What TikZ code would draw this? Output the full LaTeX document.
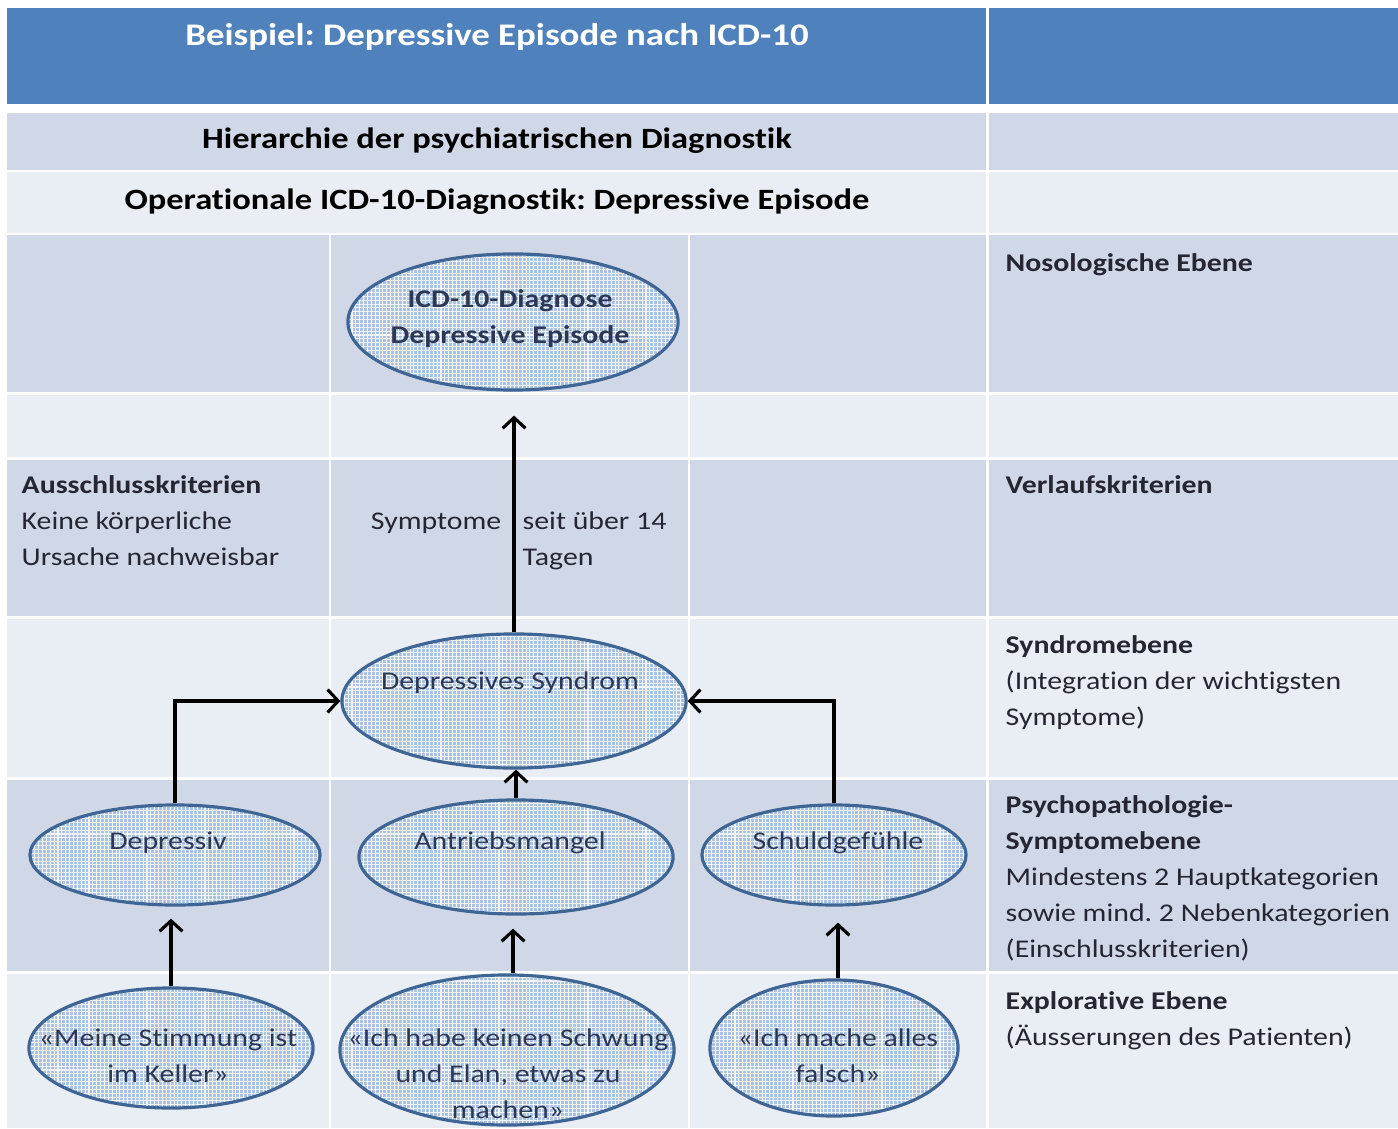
\documentclass[tikz,border=0pt]{standalone}
\usepackage{fontspec}
\setmainfont{Carlito}[FakeStretch=1.17,Ligatures=CommonOff]
\usetikzlibrary{arrows.meta,shapes.geometric,patterns.meta}
\definecolor{hdrblue}{HTML}{4F81BD}
\definecolor{rowdark}{HTML}{D0D8E8}
\definecolor{rowlight}{HTML}{E9EDF4}
\definecolor{ellfill}{HTML}{ABC3E2}
\definecolor{elldraw}{HTML}{3E6594}
\definecolor{txtc}{HTML}{262633}
\definecolor{elltxt}{HTML}{2B3754}
\newcommand\fbody{\fontsize{7.25pt}{10.24pt}\selectfont}
\newcommand\fhead{\fontsize{8.38pt}{10.24pt}\selectfont\bfseries}
\newcommand\ftitle{\fontsize{8.95pt}{10.24pt}\selectfont\bfseries}
\frenchspacing
\begin{document}
\begin{tikzpicture}[x=0.01cm,y=-0.01cm,
  darkcell/.style={fill=rowdark},
  lightcell/.style={fill=rowlight},
  sep/.style={draw=white,line width=0.71pt},
  ell/.style={ellipse,draw=elldraw,line width=0.9pt,inner sep=0pt,
    preaction={fill=ellfill},
    pattern={Hatch[distance=1.1pt,line width=0.3pt]},pattern color=white!85!ellfill},
  etext/.style={inner sep=0pt,font=\fbody,text=elltxt,align=center},
  ltext/.style={inner sep=0pt,font=\fbody,text=txtc,align=left,anchor=west},
  htext/.style={inner sep=0pt,font=\fhead,text=black},
  conn/.style={line width=0.9pt,-{Straight Barb[length=3pt,width=6.5pt]}}]
\useasboundingbox (0,0) rectangle (1398,1128);
% table
\fill[hdrblue] (7,8) rectangle (1398,104);
\fill[darkcell] (7,113) rectangle (1398,171);
\fill[lightcell] (7,171) rectangle (1398,234);
\fill[darkcell] (7,234) rectangle (1398,393.5);
\fill[lightcell] (7,393.5) rectangle (1398,458.5);
\fill[darkcell] (7,458.5) rectangle (1398,617.5);
\fill[lightcell] (7,617.5) rectangle (1398,778.5);
\fill[darkcell] (7,778.5) rectangle (1398,972.5);
\fill[lightcell] (7,972.5) rectangle (1398,1128);
\foreach \yy in {171,234,393.5,458.5,617.5,778.5,972.5}
  \draw[sep] (7,\yy) -- (1398,\yy);
\draw[sep] (987.5,8) -- (987.5,1128);
\draw[sep] (330,234) -- (330,1128);
\draw[sep] (689,234) -- (689,1128);
% ellipses
\node[ell,minimum width=3.30cm,minimum height=1.36cm] (icd) at (513,322) {};
\node[ell,minimum width=3.44cm,minimum height=1.34cm] (ds) at (514,701) {};
\node[ell,minimum width=2.90cm,minimum height=1.00cm] (dep) at (175,855) {};
\node[ell,minimum width=3.14cm,minimum height=1.14cm] (antr) at (516,857) {};
\node[ell,minimum width=2.64cm,minimum height=1.00cm] (schuld) at (834,855) {};
\node[ell,minimum width=2.84cm,minimum height=1.20cm] (meine) at (171,1048) {};
\node[ell,minimum width=3.34cm,minimum height=1.50cm] (ichhabe) at (507,1050) {};
\node[ell,minimum width=2.48cm,minimum height=1.36cm] (ichmache) at (834,1048) {};
% ellipse texts
\node[etext,font=\fbody\bfseries] (icdT) at (510,318) {\strut ICD-10-Diagnose\\\strut Depressive Episode};
\node[etext] (dsT) at (510,682) {\strut Depressives Syndrom};
\node[etext] (depT) at (168,842) {\strut Depressiv};
\node[etext] (antrT) at (510,842) {\strut Antriebsmangel};
\node[etext] (schuldT) at (838,842) {\strut Schuldgefühle};
\node[etext] (meineT) at (168,1057) {\strut «Meine Stimmung ist\\\strut im Keller»};
\node[etext] (ichhabeT) at (508,1075) {\strut «Ich habe keinen Schwung\\\strut und Elan, etwas zu\\\strut machen»};
\node[etext] (ichmacheT) at (838,1057) {\strut «Ich mache alles\\\strut falsch»};
% connectors
\draw[conn,shorten >=0.25cm] (ds.north) -- (ds.north |- icd.south);
\draw[conn] (dep.north) |- (ds.west);
\draw[conn] (schuld.north) |- (ds.east);
\draw[conn] (antr.north) -- (antr.north |- ds.south);
\draw[conn,shorten >=0.12cm] (meine.north) -- (meine.north |- dep.south);
\draw[conn,shorten >=0.13cm] ([xshift=0.06cm]ichhabe.north) -- ([xshift=0.06cm]ichhabe.north |- antr.south);
\draw[conn,shorten >=0.16cm] ([xshift=0.04cm]ichmache.north) -- ([xshift=0.04cm]ichmache.north |- schuld.south);
% heading texts
\node[inner sep=0pt,font=\ftitle,text=white] (title) at (497,38.8) {\strut Beispiel: Depressive Episode nach ICD-10};
\node[htext] (hier) at (497,141) {\strut Hierarchie der psychiatrischen Diagnostik};
\node[htext] (oper) at (497,202) {\strut Operationale ICD-10-Diagnostik: Depressive Episode};
% labels
\node[ltext,anchor=east] (symL) at (502,522) {\strut Symptome};
\node[ltext] (symR) at (522,540) {\strut seit über 14\\\strut Tagen};
\node[ltext] (aus) at (21,522) {\strut\textbf{Ausschlusskriterien}\\\strut Keine körperliche\\\strut Ursache nachweisbar};
\node[ltext] (noso) at (1005,264) {\strut\textbf{Nosologische Ebene}};
\node[ltext] (verl) at (1005,486) {\strut\textbf{Verlaufskriterien}};
\node[ltext] (synd) at (1005,682) {\strut\textbf{Syndromebene}\\\strut (Integration der wichtigsten\\\strut Symptome)};
\node[ltext] (psych) at (1005,878) {\strut\textbf{Psychopathologie-}\\\strut\textbf{Symptomebene}\\\strut Mindestens 2 Hauptkategorien\\\strut sowie mind. 2 Nebenkategorien\\\strut (Einschlusskriterien)};
\node[ltext] (expl) at (1005,1020) {\strut\textbf{Explorative Ebene}\\\strut (Äusserungen des Patienten)};
\end{tikzpicture}
\end{document}
